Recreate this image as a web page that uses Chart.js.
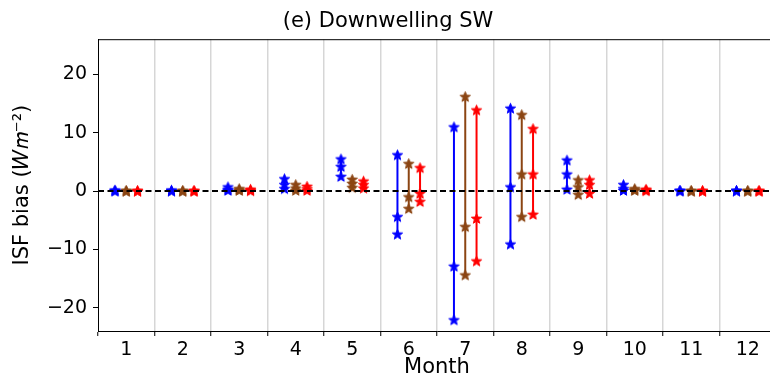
<!DOCTYPE html>
<html>
<head>
<meta charset="utf-8">
<script src="https://cdn.jsdelivr.net/npm/chart.js@4.4.1/dist/chart.umd.min.js"></script>
<style>
  html, body { margin: 0; padding: 0; background: #fff; overflow: hidden; }
  #wrap { width: 874px; height: 380px; }
</style>
</head>
<body>
<div id="wrap"><canvas id="myChart"></canvas></div>
<script>
// mesi e valori (massimo, medio, minimo) per ogni serie
const months = [1, 2, 3, 4, 5, 6, 7, 8, 9, 10, 11, 12]

const blueHi  = [0.15, 0.15, 0.7, 2.1, 5.5, 6.2, 11.0, 14.2, 5.3, 1.1, 0.1, 0.1]
const blueMid = [0.05, 0.05, 0.3, 1.1, 4.2, -4.4, -12.9, 0.7, 2.9, 0.4, 0.05, 0.05]
const blueLo  = [0.0, 0.0, 0.1, 0.4, 2.5, -7.4, -22.1, -9.1, 0.3, 0.1, 0.0, 0.0]

const brownHi  = [0.05, 0.05, 0.4, 1.1, 2.0, 4.7, 16.2, 13.1, 1.9, 0.4, 0.05, 0.05]
const brownMid = [0.02, 0.02, 0.2, 0.5, 1.3, -1.0, -6.1, 2.9, 0.7, 0.2, 0.02, 0.02]
const brownLo  = [0.0, 0.0, 0.1, 0.1, 0.6, -3.0, -14.4, -4.4, -0.6, 0.1, 0.0, 0.0]

const redHi  = [0.05, 0.05, 0.3, 0.8, 1.7, 4.0, 13.9, 10.7, 1.9, 0.3, 0.05, 0.05]
const redMid = [0.02, 0.02, 0.15, 0.4, 1.1, -0.4, -4.7, 2.9, 1.1, 0.15, 0.02, 0.02]
const redLo  = [0.0, 0.0, 0.05, 0.1, 0.5, -1.8, -12.0, -4.0, -0.4, 0.05, 0.0, 0.0]

const yTicks = [-20, -10, 0, 10, 20]
const xMin = 0.5
const xMax = 12.5

// stella piena (con bordo) come in matplotlib
function makeStar(color) {
  const c = document.createElement('canvas')
  c.width = 13
  c.height = 13
  const g = c.getContext('2d')
  g.beginPath()
  for (let i = 0; i < 10; i++) {
    const r = i % 2 ? 2.3 : 5.4
    const a = -Math.PI / 2 + (i * Math.PI) / 5
    const px = 6.5 + r * Math.cos(a)
    const py = 6.9 + r * Math.sin(a)
    if (i === 0) g.moveTo(px, py)
    else g.lineTo(px, py)
  }
  g.closePath()
  g.fillStyle = color
  g.fill()
  g.strokeStyle = color
  g.lineWidth = 1
  g.lineJoin = 'round'
  g.stroke()
  return c
}

// costruisce i punti: linea verticale da max a min, con un buco tra un mese e l'altro
function buildPoints(hi, mid, lo, offset) {
  const pts = []
  months.forEach((m, i) => {
    pts.push({ x: m + offset, y: hi[i] })
    pts.push({ x: m + offset, y: mid[i] })
    pts.push({ x: m + offset, y: lo[i] })
    pts.push({ x: m + offset, y: null })
  })
  return pts
}

function seriesDataset(hi, mid, lo, offset, color) {
  return {
    type: 'scatter',
    data: buildPoints(hi, mid, lo, offset),
    showLine: true,
    spanGaps: false,
    borderColor: color,
    backgroundColor: color,
    borderWidth: 2,
    pointStyle: makeStar(color),
    order: 1,
  }
}

const isHalf = (v) => Math.abs(v - Math.floor(v) - 0.5) < 1e-6

// cornice sopra e a destra
const framePlugin = {
  id: 'frame',
  afterDraw: function (chart) {
    const ctx = chart.ctx
    const a = chart.chartArea
    ctx.save()
    ctx.strokeStyle = '#000'
    ctx.lineWidth = 1
    ctx.beginPath()
    ctx.moveTo(a.left, a.top + 0.5)
    ctx.lineTo(a.right, a.top + 0.5)
    ctx.lineTo(a.right, a.bottom)
    ctx.stroke()
    ctx.restore()
  },
}

const font = 'DejaVu Sans'

let ctx = document.getElementById('myChart').getContext('2d')

let myChart = new Chart(ctx, {
  type: 'scatter',
  data: {
    datasets: [
      seriesDataset(blueHi, blueMid, blueLo, -0.2, '#0000ff'),
      seriesDataset(brownHi, brownMid, brownLo, 0, '#8b4513'),
      seriesDataset(redHi, redMid, redLo, 0.2, '#ff0000'),
      {
        type: 'scatter',
        data: [{ x: xMin, y: 0 }, { x: xMax, y: 0 }],
        showLine: true,
        borderColor: '#000',
        borderWidth: 2,
        borderDash: [6, 3.5],
        pointRadius: 0,
        order: 0,
      },
    ],
  },
  options: {
    events: [],
    animation: false,
    responsive: true,
    maintainAspectRatio: false,
    layout: { padding: { left: 0, right: 98, top: 0, bottom: 0 } },
    plugins: {
      legend: { display: false },
      tooltip: { enabled: false },
      title: {
        display: true,
        text: '(e) Downwelling SW',
        color: '#000',
        font: { family: font, size: 21, weight: 'normal' },
        padding: { top: 9, bottom: 5 },
      },
    },
    scales: {
      x: {
        type: 'linear',
        min: xMin,
        max: xMax,
        afterBuildTicks: (scale) => {
          const t = []
          for (let v = xMin; v <= xMax + 1e-9; v += 0.5) t.push({ value: v })
          scale.ticks = t
        },
        afterFit: (scale) => {
          scale.height = 49
        },
        ticks: {
          autoSkip: false,
          maxRotation: 0,
          padding: 3,
          color: '#000',
          font: { family: font, size: 19 },
          callback: (v) => (months.includes(v) ? String(v) : ''),
        },
        grid: {
          color: (c) => (c.tick && isHalf(c.tick.value) && c.tick.value > xMin ? 'rgba(0,0,0,0.16)' : 'rgba(0,0,0,0)'),
          lineWidth: 1.5,
          tickColor: (c) => (c.tick && isHalf(c.tick.value) ? '#000' : 'rgba(0,0,0,0)'),
          tickLength: 5,
          tickWidth: 1,
        },
        border: { display: true, color: '#000', width: 1 },
        title: {
          display: true,
          text: 'Month',
          color: '#000',
          font: { family: font, size: 21 },
          padding: 0,
        },
      },
      y: {
        type: 'linear',
        min: -24,
        max: 26.05,
        afterBuildTicks: (scale) => {
          scale.ticks = yTicks.map((v) => ({ value: v }))
        },
        afterFit: (scale) => {
          scale.width = 98
        },
        ticks: {
          padding: 6,
          color: '#000',
          font: { family: font, size: 19 },
          callback: (v) => String(v).replace('-', '\u2212'),
        },
        grid: {
          drawOnChartArea: false,
          tickColor: '#000',
          tickLength: 5,
          tickWidth: 1,
        },
        border: { display: true, color: '#000', width: 1 },
        title: {
          display: true,
          text: 'ISF bias (\u{1D44A}\u{1D45A}\u207b\u00b2)',
          color: '#000',
          font: { family: font, size: 21 },
          padding: { top: 10, bottom: 0 },
        },
      },
    },
  },
  plugins: [framePlugin],
})
</script>
</body>
</html>
